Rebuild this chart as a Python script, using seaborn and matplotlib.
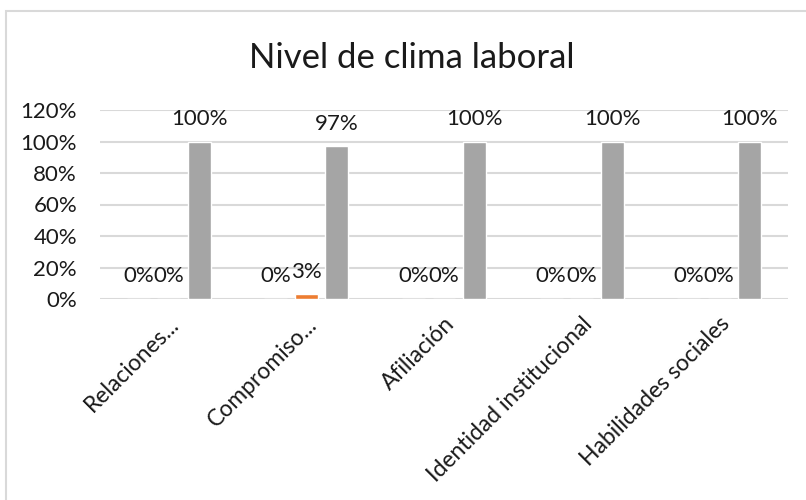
import matplotlib
matplotlib.use("Agg")
import matplotlib.pyplot as plt
import matplotlib.transforms as mtransforms
from matplotlib.ticker import PercentFormatter
from matplotlib.patches import Rectangle
import seaborn as sns
import pandas as pd

# ---- data ----
categories = ["Relaciones...", "Compromiso...", "Afiliación",
              "Identidad institucional", "Habilidades sociales"]
series_names = ["Bajo", "Medio", "Alto"]
bajo = [0.00, 0.00, 0.00, 0.00, 0.00]
medio = [0.00, 0.03, 0.00, 0.00, 0.00]
alto = [1.00, 0.97, 1.00, 1.00, 1.00]
y_ticks = [0.0, 0.2, 0.4, 0.6, 0.8, 1.0, 1.2]
title = "Nivel de clima laboral"

colors = ["#4472C4", "#ED7D31", "#A5A5A5"]

rows = []
for name, vals in zip(series_names, [bajo, medio, alto]):
    for c, v in zip(categories, vals):
        rows.append({"categoria": c, "nivel": name, "valor": v})
df = pd.DataFrame(rows)

sns.set_theme(style="white")
plt.rcParams["font.family"] = ["Lato", "DejaVu Sans"]

W, H = 806, 500
fig = plt.figure(figsize=(W / 100, H / 100), dpi=100)
ax = fig.add_axes([100 / W, 1 - 299 / H, (788 - 100) / W, (299 - 110) / H])

sns.barplot(data=df, x="categoria", y="valor", hue="nivel",
            order=categories, hue_order=series_names,
            palette=colors, width=0.665, gap=0.25,
            legend=False, ax=ax, saturation=1, errorbar=None)

ax.set_ylim(0, 1.2)
ax.set_yticks(y_ticks)
ax.yaxis.set_major_formatter(PercentFormatter(1.0, decimals=0))
ax.grid(axis="y", color="#D9D9D9", linewidth=1.5)
ax.set_axisbelow(True)
for s in ax.spines.values():
    s.set_visible(False)
ax.set_xlabel("")
ax.set_ylabel("")
ax.tick_params(axis="both", length=0, labelsize=16, colors="#1a1a1a")
ax.tick_params(axis="y", pad=16.5)
ax.set_xlim(-0.5, len(categories) - 0.5)

# data labels
for cont in ax.containers:
    labels = [f"{b.get_height() * 100:.0f}%" for b in cont]
    ax.bar_label(cont, labels=labels, padding=9, fontsize=16, color="#1a1a1a")

# rotated category labels
offset = mtransforms.ScaledTranslation(7 / 100, -17 / 100, fig.dpi_scale_trans)
for lbl in ax.get_xticklabels():
    lbl.set_rotation(45)
    lbl.set_ha("right")
    lbl.set_va("center")
    lbl.set_rotation_mode("anchor")
    lbl.set_fontsize(16.5)
    lbl.set_transform(lbl.get_transform() + offset)

fig.text(412 / W, 1 - 68 / H, title, ha="center", va="baseline",
         fontsize=25, color="#1a1a1a")

# chart border (extends beyond right/bottom edge)
fig.patches.append(Rectangle((5.5 / W, -0.1), 1.2, 1 - 10.5 / H + 0.1,
                             transform=fig.transFigure, fill=False,
                             edgecolor="#D9D9D9", linewidth=1.5))

fig.savefig("out.png", dpi=100)
